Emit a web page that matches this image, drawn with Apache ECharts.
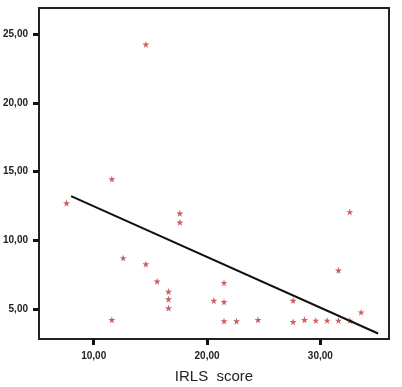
<!DOCTYPE html>
<html><head><meta charset="utf-8">
<script src="https://cdn.jsdelivr.net/npm/echarts@6/dist/echarts.min.js"></script>
<style>html,body{margin:0;padding:0;background:#fff}#c{width:402px;height:387px}</style>
</head><body><div id="c"></div>
<script>
var xValues = [7.6, 11.6, 14.6, 11.6, 12.6, 14.6, 15.6, 16.6, 16.6, 16.6, 17.6, 17.6, 20.6, 21.5, 21.5, 21.5, 22.6, 24.5, 27.6, 27.6, 28.6, 29.6, 30.6, 31.6, 32.6, 31.6, 32.6, 33.6];
var yValues = [12.7, 14.45, 24.25, 4.2, 8.7, 8.25, 7.0, 6.25, 5.7, 5.05, 11.95, 11.3, 5.6, 6.9, 5.5, 4.1, 4.1, 4.2, 5.6, 4.05, 4.2, 4.15, 4.15, 7.8, 12.05, 4.15, 4.15, 4.75];
var fitX = [8.0, 35.1];
var fitY = [13.2, 3.2];
var xTicks = [10, 20, 30];
var yTicks = [5, 10, 15, 20, 25];

var pts = xValues.map(function (x, i) { return [x, yValues[i]]; });
var fit = fitX.map(function (x, i) { return [x, fitY[i]]; });
var fmt = function (v) { return v.toFixed(2).replace('.', ','); };
var star = 'path://M50,0 L61,35 L98,35 L68,57 L79,91 L50,70 L21,91 L32,57 L2,35 L39,35 Z';

var chart = echarts.init(document.getElementById('c'), null, { renderer: 'canvas' });
chart.setOption({
  animation: false,
  backgroundColor: '#ffffff',
  grid: { left: 39, top: 8, right: 13, bottom: 48, containLabel: false, outerBoundsMode: 'none', show: true, borderColor: '#222', borderWidth: 2, backgroundColor: '#ffffff' },
  xAxis: {
    type: 'value', min: 5.17, max: 36.06,
    splitLine: { show: false },
    axisLine: { show: true, lineStyle: { color: '#222', width: 2 } },
    axisTick: { show: true, customValues: xTicks, length: 6, lineStyle: { color: '#111', width: 3 } },
    axisLabel: { customValues: xTicks, formatter: fmt, margin: 12, fontSize: 10, fontWeight: 'bold', color: '#222', fontFamily: 'Liberation Sans, Arial, sans-serif' },
    name: 'IRLS  score', nameLocation: 'middle', nameGap: 30,
    nameTextStyle: { fontSize: 15, color: '#222', fontFamily: 'Liberation Sans, Arial, sans-serif' }
  },
  yAxis: {
    type: 'value', min: 2.8, max: 26.9,
    splitLine: { show: false },
    axisLine: { show: true, lineStyle: { color: '#222', width: 2 } },
    axisTick: { show: true, customValues: yTicks, length: 6, lineStyle: { color: '#111', width: 3 } },
    axisLabel: { customValues: yTicks, formatter: fmt, margin: 11, fontSize: 10, fontWeight: 'bold', color: '#222', fontFamily: 'Liberation Sans, Arial, sans-serif' }
  },
  series: [
    { type: 'scatter', data: pts, symbol: star, symbolSize: 7, itemStyle: { color: '#bd3538' } },
    { type: 'line', data: fit, symbol: 'none', lineStyle: { color: '#111', width: 2 } }
  ]
});
</script></body></html>
